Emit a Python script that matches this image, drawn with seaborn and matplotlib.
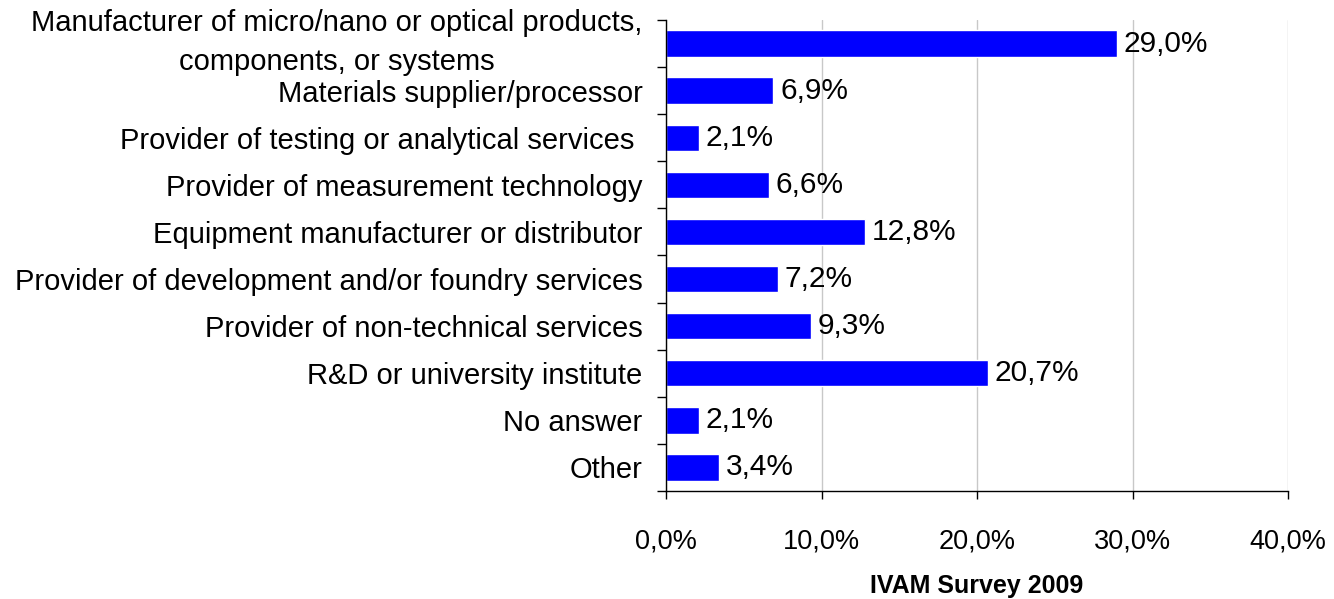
import numpy as np
import pandas as pd
import seaborn as sns
import matplotlib.pyplot as plt
import matplotlib.transforms as mtransforms

# survey categories and shares (%)
categories = [
    "Manufacturer of micro/nano or optical products,\ncomponents, or systems",
    "Materials supplier/processor",
    "Provider of testing or analytical services ",
    "Provider of measurement technology",
    "Equipment manufacturer or distributor",
    "Provider of development and/or foundry services",
    "Provider of non-technical services",
    "R&D or university institute",
    "No answer",
    "Other",
]
shares = [29.0, 6.9, 2.1, 6.6, 12.8, 7.2, 9.3, 20.7, 2.1, 3.4]
x_ticks = [0, 10, 20, 30, 40]

df = pd.DataFrame({"category": categories, "share": shares})

sns.set_style("white")
plt.rcParams["font.family"] = ["Liberation Sans", "DejaVu Sans"]
plt.rcParams["text.color"] = "black"
plt.rcParams["xtick.color"] = "black"
plt.rcParams["ytick.color"] = "black"
plt.rcParams["axes.labelcolor"] = "black"

fig = plt.figure(figsize=(13.34, 5.99), dpi=100)
ax = fig.add_axes([666 / 1334, 1 - 491 / 599, (1288 - 666) / 1334, (491 - 20) / 599])

sns.barplot(data=df, y="category", x="share", orient="h", color="#0000FF",
            saturation=1, width=0.56, ax=ax)

ax.set_xlim(0, 40)
ax.set_ylim(len(categories) - 0.5, -0.5)
ax.set_xticks(x_ticks)
ax.set_xticklabels([f"{v:.1f}%".replace(".", ",") for v in x_ticks], fontsize=19.5)
ax.xaxis.grid(True, color="#c8c8c8", linewidth=1)
ax.set_axisbelow(True)

# category labels centred on bars, tick marks at category boundaries
ax.set_yticks(np.arange(len(categories)))
ax.set_yticklabels(categories, fontsize=21, multialignment="center", linespacing=1.5)
ax.set_yticks(np.arange(len(categories) + 1) - 0.5, minor=True)
ax.tick_params(axis="y", which="major", left=True, length=0, pad=17)
ax.tick_params(axis="y", which="minor", left=True, length=6.5, width=1, color="black", direction="out")
ax.tick_params(axis="x", which="major", bottom=True, length=6, width=1, color="black",
               direction="out", pad=21)

# the two-line label sits a bit higher in the original
first = ax.get_yticklabels()[0]
first.set_transform(first.get_transform() + mtransforms.ScaledTranslation(0, 7 / 72, fig.dpi_scale_trans))

for s in ["top", "right"]:
    ax.spines[s].set_visible(False)
for s in ["left", "bottom"]:
    ax.spines[s].set_color("black")
    ax.spines[s].set_linewidth(1)

for i, v in enumerate(shares):
    ax.text(v + 0.45, i, f"{v:.1f}%".replace(".", ","), va="center", ha="left", fontsize=21.5)

ax.set_ylabel("")
ax.set_xlabel("IVAM Survey 2009", fontsize=18, fontweight="bold", labelpad=14)

fig.savefig("out.png", dpi=100)
